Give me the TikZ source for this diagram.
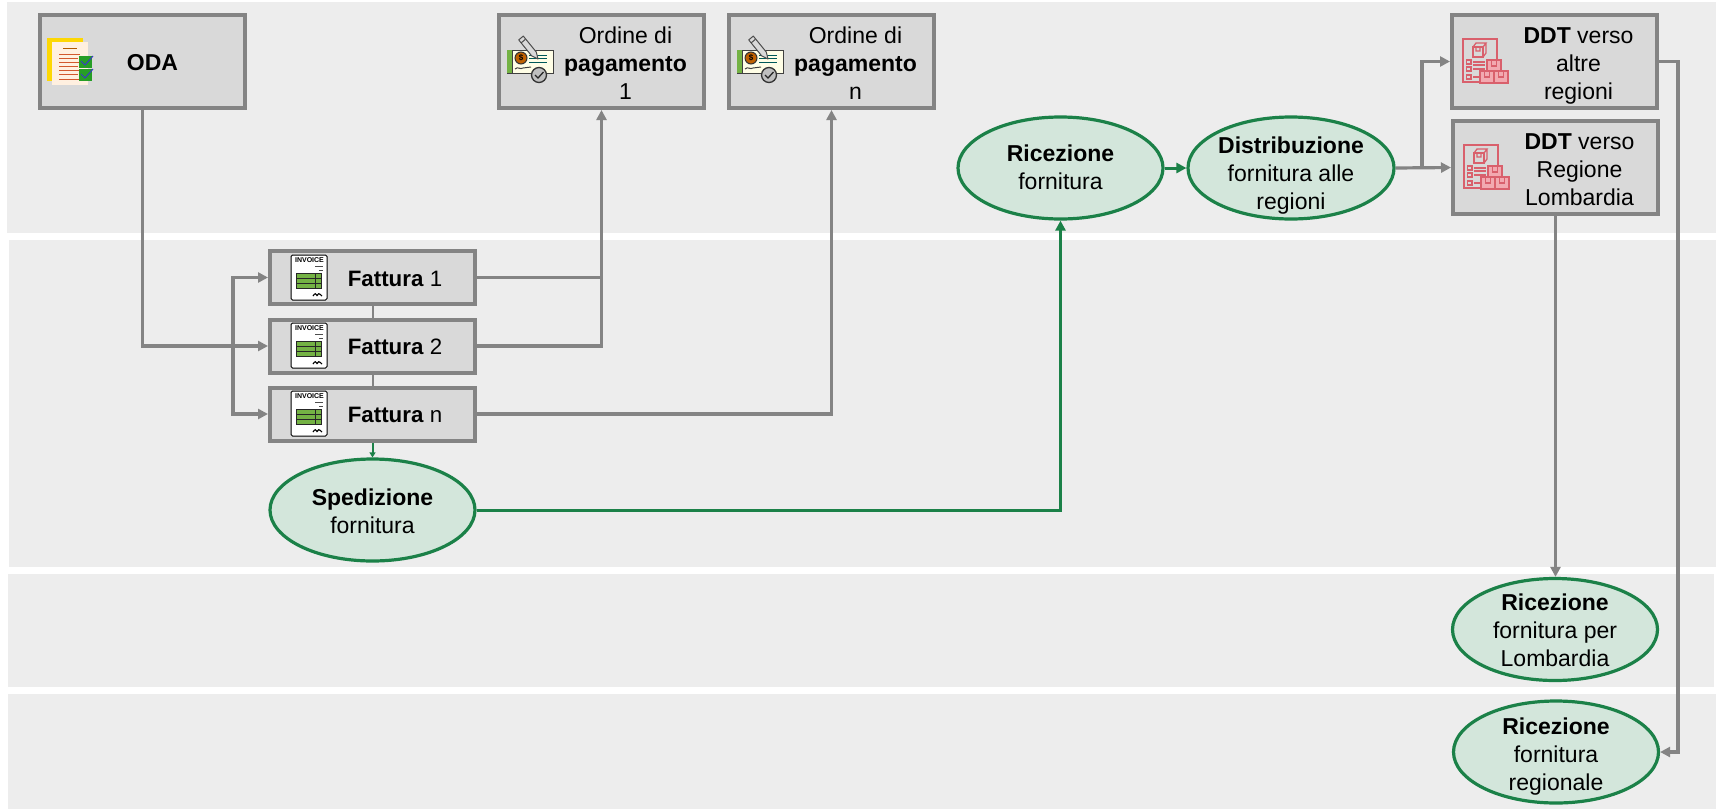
\documentclass[tikz,border=0pt]{standalone}
\usepackage{fontspec}
\setmainfont{Liberation Sans}
\usetikzlibrary{arrows.meta,shapes.geometric}
\definecolor{bandc}{HTML}{EDEDED}
\definecolor{boxf}{HTML}{D9D9D9}
\definecolor{gline}{HTML}{848484}
\definecolor{gr}{HTML}{1B8148}
\definecolor{grf}{HTML}{D3E6DB}
\definecolor{pinkf}{HTML}{F2A9B0}
\definecolor{redl}{HTML}{D9606C}
\definecolor{leaf}{HTML}{74B244}
\tikzset{
  every node/.style={font=\fontsize{23}{28}\selectfont},
  band/.style={fill=bandc,draw=none},
  boxn/.style={rectangle,draw=gline,fill=boxf,line width=4pt,inner sep=0pt},
  bigbox/.style={boxn,minimum width=205pt,minimum height=93pt},
  smallbox/.style={boxn,minimum width=205pt,minimum height=53pt,font=\fontsize{22.3}{28}\selectfont},
  oval/.style={ellipse,draw=gr,fill=grf,line width=3.2pt,inner sep=0pt,minimum width=205pt,minimum height=102pt},
  gl/.style={draw=gline,line width=3.2pt},
  ga/.style={gl,-{Triangle[width=10pt,length=10pt]}},
  gn/.style={draw=gr,line width=3pt,-{Triangle[width=10pt,length=10pt]}},
}
% text block: #1 shift to the right, #2 shift down, #3 the lines
\newcommand{\placed}[3]{\hspace*{#1}\raisebox{\dimexpr-5.75pt-#2\relax}[0pt][0pt]{\begin{tabular}{@{}c@{}}#3\end{tabular}}}
% invoice icon
\newcommand{\invoiceicon}[3]{%
\begin{scope}[shift={(#1,#2)}]
 \draw[fill=white,draw=black,line width=1pt,rounded corners=1.5pt] (0,0) rectangle (36,45);
 \node[font=\bfseries\fontsize{7}{7}\selectfont,inner sep=0pt] (#3) at (18.5,5.5) {INVOICE};
 \draw[line width=1pt,black!70] (24,11)--(32,11) (28,15)--(32,15);
 \draw[fill=leaf,draw=black!85,line width=1pt] (5.5,18.5) rectangle (30.5,33);
 \draw[black!85,line width=1pt] (5.5,23.3)--(30.5,23.3) (5.5,28.1)--(30.5,28.1) (24,18.5)--(24,33);
 \draw[black,line width=1.1pt] (22,41) .. controls (24,38) and (25,38) .. (26,40.5) .. controls (27,38) and (28,38) .. (31,41);
\end{scope}}
% cheque icon
\newcommand{\chequeicon}[2]{%
\begin{scope}[shift={(#1,#2)}]
 \draw[fill=white!90!yellow,draw=black!75,line width=1pt] (0,13) rectangle (46,36);
 \fill[leaf] (0,13) rectangle (5,36);
 \draw[black!75,line width=.9pt] (5,13)--(5,36);
 \draw[fill=orange!75!black,draw=black!80,line width=1pt] (14,21) circle (6);
 \node[font=\bfseries\fontsize{8}{8}\selectfont,inner sep=0pt] (chq#1) at (14,21) {\$};
 \draw[teal!70!black,line width=1pt] (22,18)--(40,18) (22,21.5)--(40,21.5) (22,25)--(40,25);
 \draw[black!75,line width=1pt] (8,32) .. controls (11,29) and (13,33) .. (16,31) .. controls (19,29) and (21,32) .. (24,30);
 \draw[fill=black!15,draw=black!70,line width=1pt,line join=round] (11.7,2.9) -- (16.3,-0.9) -- (29.3,15.1) -- (31,22) -- (24.7,18.9) -- cycle;
 \draw[black!70,line width=1pt] (14,6) -- (18.3,2.4);
 \draw[fill=black!25,draw=black!80,line width=1.3pt] (32,38) circle (7.5);
 \draw[black!85,line width=1.3pt] (28,38)--(31,41)--(36.5,35);
\end{scope}}
% delivery note icon
\newcommand{\ddticon}[2]{%
\begin{scope}[shift={(#1,#2)},draw=redl,line width=1.3pt]
 \draw[fill=none] (0,0) rectangle (34,43);
 \draw (10,8) rectangle (20,18);
 \draw (10,8) -- (13,4) -- (23,4) -- (20,8) (23,4) -- (23,14) -- (20,18) (13,8) -- (13,12) -- (17,12) -- (17,8);
 \draw (3.5,21) rectangle (8,25) (3.5,28) rectangle (8,32) (3.5,36) rectangle (8,40);
 \draw (10,23)--(22,23) (10,26)--(22,26) (10,30)--(22,30) (10,38)--(17,38);
 \draw[fill=pinkf] (24,21) rectangle (38,32);
 \draw[fill=pinkf] (17,32) rectangle (31,44);
 \draw[fill=pinkf] (31,32) rectangle (45,44);
 \draw (28.5,21)--(28.5,27)--(33.5,27)--(33.5,21) (21.5,32)--(21.5,38)--(26.5,38)--(26.5,32) (35.5,32)--(35.5,38)--(40.5,38)--(40.5,32);
\end{scope}}
\begin{document}
\begin{tikzpicture}[x=1pt,y=-1pt]
\useasboundingbox (0,0) rectangle (1720,809);
\fill[band] (7,2) rectangle (1716,233);
\fill[band] (9,240) rectangle (1716,567);
\fill[band] (8,574) rectangle (1714,687);
\fill[band] (8,694) rectangle (1716,809);
% nodes
\node[bigbox] (oda) at (142.5,61.5) {\placed{20pt}{4pt}{\bfseries ODA}};
\node[bigbox] (o1) at (601.5,61.5) {\placed{48pt}{4.5pt}{Ordine di\\\bfseries pagamento\\1}};
\node[bigbox] (on) at (831.5,61.5) {\placed{48pt}{4.5pt}{Ordine di\\\bfseries pagamento\\n}};
\node[bigbox] (ddta) at (1554.5,61.5) {\placed{48pt}{4.5pt}{\textbf{DDT} verso\\altre\\regioni}};
\node[bigbox] (ddtl) at (1555.5,167.5) {\placed{48pt}{4.5pt}{\textbf{DDT} verso\\Regione\\Lombardia}};
\node[smallbox] (f1) at (372.5,277.5) {\placed{45pt}{2.5pt}{\textbf{Fattura} 1}};
\node[smallbox] (f2) at (372.5,346) {\placed{45pt}{2.5pt}{\textbf{Fattura} 2}};
\node[smallbox] (fn) at (372.5,414) {\placed{45pt}{2.5pt}{\textbf{Fattura} n}};
\node[oval] (sped) at (372.5,510) {\placed{0pt}{4pt}{\textbf{Spedizione}\\fornitura}};
\node[oval] (ric) at (1060.5,168) {\placed{0pt}{2pt}{\textbf{Ricezione}\\fornitura}};
\node[oval] (dist) at (1291,168) {\placed{0pt}{8.5pt}{\textbf{Distribuzione}\\fornitura alle\\regioni}};
\node[oval] (rlom) at (1555,629.5) {\placed{0pt}{4pt}{\textbf{Ricezione}\\fornitura per\\Lombardia}};
\node[oval] (rreg) at (1556,752) {\placed{0pt}{5pt}{\textbf{Ricezione}\\fornitura\\regionale}};
% icons
\begin{scope}
 \fill[yellow!75!orange] (47,38) rectangle (83,81);
 \fill[orange!12!white] (52,42) rectangle (88,85);
 \draw[orange!70!black,line width=1pt] (63,48)--(77,48);
 \draw[brown!70!red,line width=1pt] (59,54)--(80,54) (59,58)--(78,58) (59,62)--(80,62) (59,66)--(78,66) (59,70)--(80,70) (59,74)--(78,74) (59,79)--(82,79);
 \fill[green!55!black!85!white] (79,56) rectangle (92,68);
 \fill[green!55!black!85!white] (79,69) rectangle (92,81);
 \draw[blue!55!gray,line width=1pt] (81,61)--(85,65)--(93,56) (81,74)--(85,78)--(93,69);
\end{scope}
\invoiceicon{291}{255}{inva}
\invoiceicon{291}{323}{invb}
\invoiceicon{291}{391}{invc}
\chequeicon{507}{37}
\chequeicon{737}{37}
\ddticon{1463}{39}
\ddticon{1464}{145}
% connectors
\coordinate (br) at (233,346);
\coordinate (br2) at (1422,168);
\coordinate (rr) at (1678,61.5);
\draw[ga] (oda.south) |- (f2.west);
\draw[ga] (br) |- (f1.west);
\draw[ga] (br) |- (fn.west);
\draw[gl,line width=2pt] (f1.south) -- (f2.north);
\draw[gl,line width=2pt] (f2.south) -- (fn.north);
\draw[ga] (f1.east) -| (o1.south);
\draw[gl] (f2.east) -| (o1.south |- f1.east);
\draw[ga] (fn.east) -| (on.south);
\draw[gn,line width=2pt,-{Triangle[width=6pt,length=5pt]}] (fn.south) -- (sped.north);
\draw[gn] (sped.east) -| (ric.south);
\draw[gn] (ric.east) -- (dist.west);
\draw[ga] (dist.east) -- (ddtl.west);
\draw[ga] (br2) |- (ddta.west);
\draw[ga] (ddtl.south) -- (ddtl.south |- rlom.north);
\draw[ga] (ddta.east) -- (rr) |- (rreg.east);
\end{tikzpicture}
\end{document}
